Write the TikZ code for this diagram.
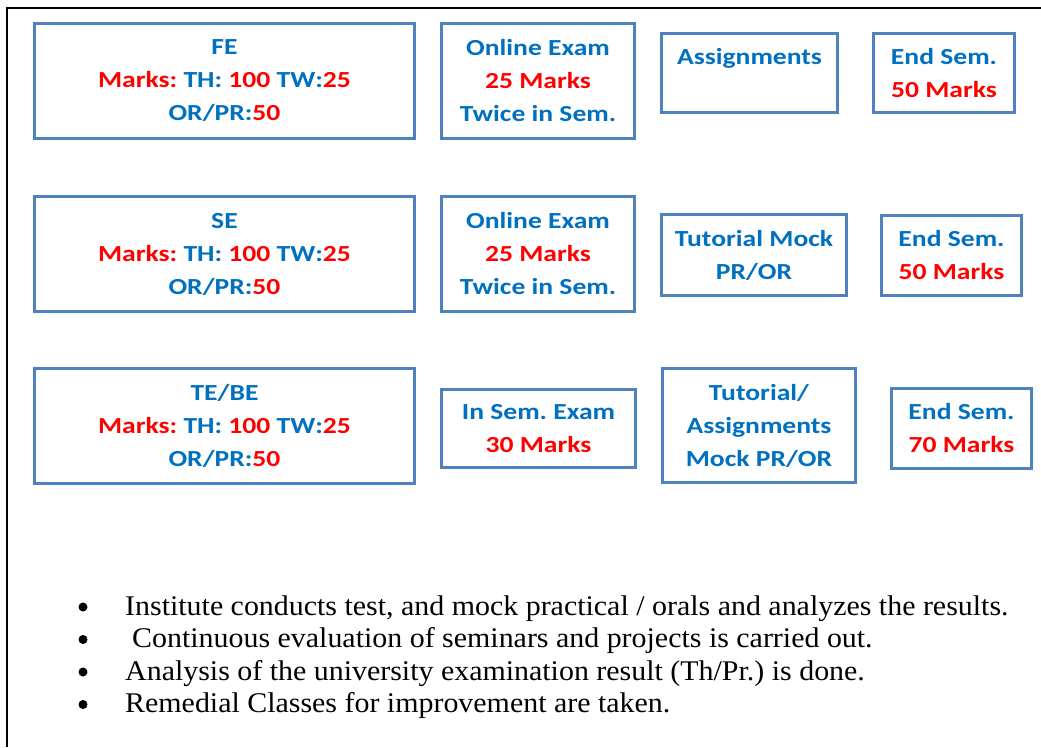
\documentclass[tikz,border=0pt]{standalone}
\usepackage{fontspec}
\setmainfont{Liberation Serif}[FakeStretch=1.05]
\newfontfamily\calibri{Carlito}[FakeStretch=1.2]
\usetikzlibrary{positioning}
\frenchspacing

\definecolor{boxblue}{RGB}{79,129,189}
\definecolor{textblue}{RGB}{0,112,192}
\definecolor{markred}{RGB}{255,0,0}

\newcommand{\mk}[1]{\textcolor{markred}{#1}}

\tikzset{
  markbox/.style = {draw=boxblue, line width=3pt, fill=white, inner sep=0pt,
    align=center, text=textblue,
    font=\calibri\bfseries\fontsize{23}{33}\selectfont},
  bulletline/.style = {anchor=base west, inner sep=0pt,
    font=\fontsize{28.5}{33}\selectfont},
  dot/.style = {circle, fill=black, inner sep=0pt, minimum size=9pt}
}

\begin{document}
\begin{tikzpicture}[x=1pt, y=-1pt]
\useasboundingbox (0,0) rectangle (1041,747);
% outer frame, only top and left edges show
\draw[line width=2pt] (7,747) -- (7,8) -- (1041,8);

% FE row
\node[markbox, minimum width=380pt, minimum height=115pt] (fe) at (224.5,81)
  {FE\\ \mk{Marks:} TH: \mk{100} TW:\mk{25}\\ OR/PR:\mk{50}};
\node[markbox, minimum width=193pt, minimum height=115pt] (fe_online) at (538,81)
  {Online Exam\\ \mk{25 Marks}\\ Twice in Sem.};
\node[markbox, minimum width=176pt, minimum height=79pt] (fe_assign) at (749.5,73)
  {Assignments\\ \mbox{}};
\node[markbox, minimum width=141pt, minimum height=79pt] (fe_end) at (944,73)
  {End Sem.\\ \mk{50 Marks}};

% SE row
\node[markbox, minimum width=380pt, minimum height=115pt] (se) at (224.5,254)
  {SE\\ \mk{Marks:} TH: \mk{100} TW:\mk{25}\\ OR/PR:\mk{50}};
\node[markbox, minimum width=193pt, minimum height=115pt] (se_online) at (538,254)
  {Online Exam\\ \mk{25 Marks}\\ Twice in Sem.};
\node[markbox, minimum width=185pt, minimum height=81pt] (se_mock) at (754,255)
  {Tutorial Mock\\ PR/OR};
\node[markbox, minimum width=140pt, minimum height=80pt] (se_end) at (951.5,255.5)
  {End Sem.\\ \mk{50 Marks}};

% TE/BE row
\node[markbox, minimum width=380pt, minimum height=115pt] (tebe) at (224.5,426)
  {TE/BE\\ \mk{Marks:} TH: \mk{100} TW:\mk{25}\\ OR/PR:\mk{50}};
\node[markbox, minimum width=194pt, minimum height=78pt] (tebe_insem) at (538.5,428.5)
  {In Sem. Exam\\ \mk{30 Marks}};
\node[markbox, minimum width=193pt, minimum height=114pt] (tebe_tut) at (759,425.5)
  {Tutorial/\\ Assignments\\ Mock PR/OR};
\node[markbox, minimum width=140pt, minimum height=80pt] (tebe_end) at (961.5,428.5)
  {End Sem.\\ \mk{70 Marks}};

% notes
\node[dot] (b_1) at (83,607) {};
\node[dot] (b_2) at (83,639.5) {};
\node[dot] (b_3) at (83,672) {};
\node[dot] (b_4) at (83,704.5) {};
\node[bulletline] (n_1) at (125,615) {Institute conducts test, and mock practical / orals and analyzes the results.};
\node[bulletline] (n_2) at (132,647.5) {Continuous evaluation of seminars and projects is carried out.};
\node[bulletline] (n_3) at (125,680) {Analysis of the university examination result (Th/Pr.) is done.};
\node[bulletline] (n_4) at (125,712.5) {Remedial Classes for improvement are taken.};
\end{tikzpicture}
\end{document}
